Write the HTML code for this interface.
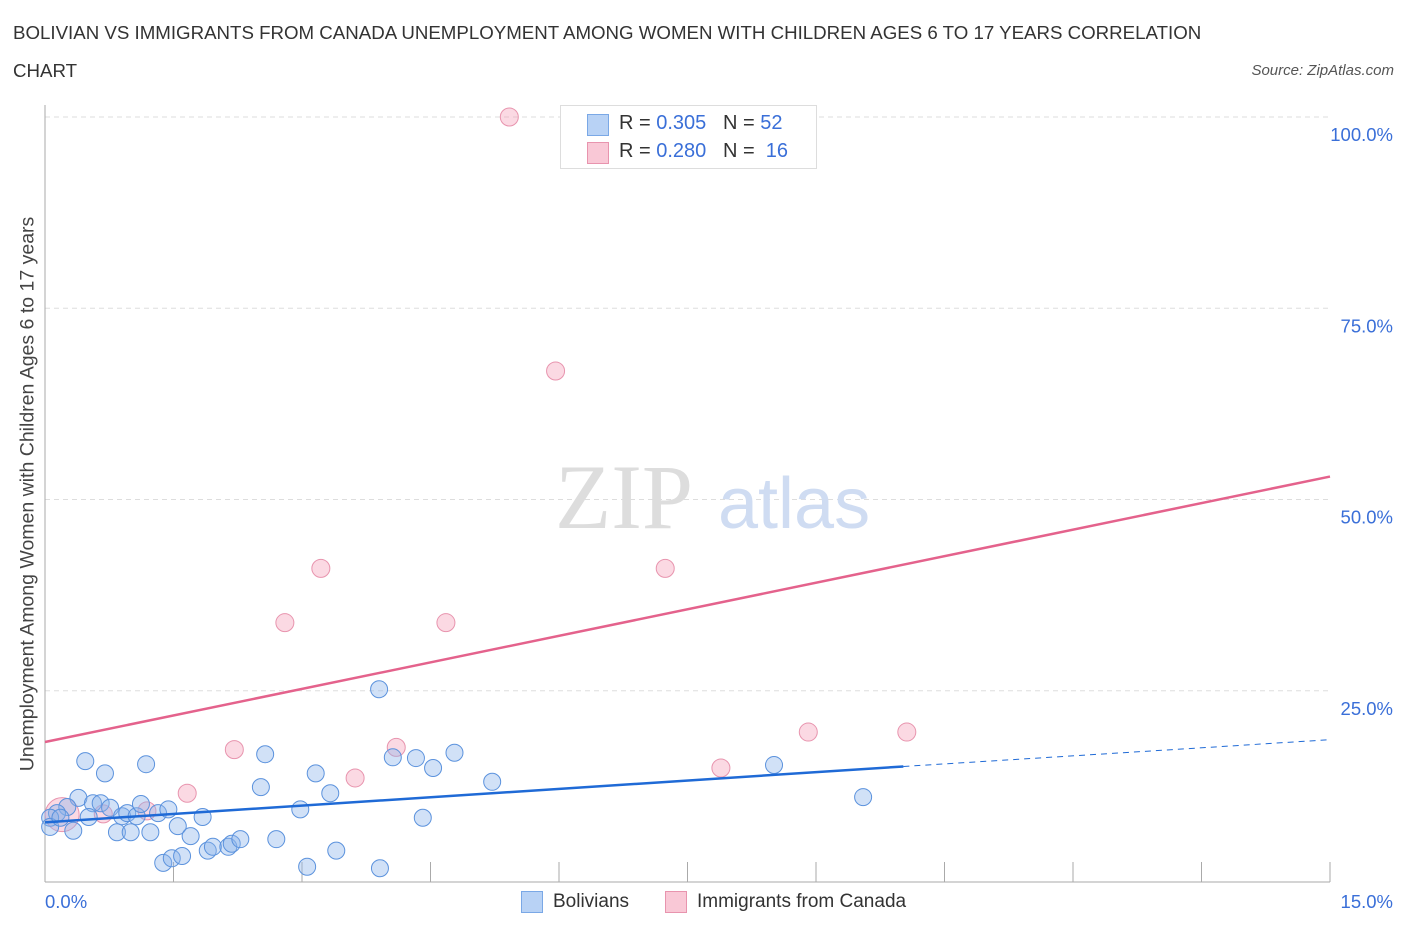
<!DOCTYPE html>
<html><head><meta charset="utf-8"><style>
body{margin:0;background:#fff;font-family:"Liberation Sans",sans-serif;}
#wrap{position:relative;width:1406px;height:930px;overflow:hidden;}
.t{position:absolute;white-space:nowrap;}
</style></head><body>
<div id="wrap">
<div class="t" style="left:13px;top:22px;font-size:18.7px;color:#333;">BOLIVIAN VS IMMIGRANTS FROM CANADA UNEMPLOYMENT AMONG WOMEN WITH CHILDREN AGES 6 TO 17 YEARS CORRELATION</div>
<div class="t" style="left:13px;top:60px;font-size:18.7px;color:#333;">CHART</div>
<div class="t" style="right:12px;top:62px;font-size:15px;color:#555;font-style:italic;">Source: ZipAtlas.com</div>
<svg id="svg" width="1406" height="930" style="position:absolute;left:0;top:0"></svg>
<div class="t" style="left:28px;top:494px;font-size:19.5px;color:#444;transform:translate(-50%,-50%) rotate(-90deg);transform-origin:center;">Unemployment Among Women with Children Ages 6 to 17 years</div>
</div>
<script>
const xTicks=[0,1.5,3,4.5,6,7.5,9,10.5,12,13.5,15];
const yTicks=[25,50,75,100];
const yTickLabels=["25.0%","50.0%","75.0%","100.0%"];
const bolX=[0.47,0.70,1.18,0.39,0.56,0.65,0.76,0.26,0.14,0.06,0.06,0.33,0.51,0.84,0.90,0.96,1.07,1.12,1.00,1.23,1.32,1.44,1.55,1.70,1.84,1.38,1.48,1.60,1.90,1.96,2.14,2.18,2.28,2.57,2.52,2.70,2.98,3.06,3.16,3.33,3.40,3.91,4.06,4.33,4.53,4.41,4.78,5.22,3.90,8.51,9.55,0.18];
const bolY=[15.8,14.2,15.4,11.0,10.3,10.3,9.7,9.8,9.0,8.4,7.2,6.7,8.5,6.5,8.6,9.0,8.6,10.2,6.5,6.5,9.0,9.5,7.3,6.0,8.5,2.5,3.1,3.4,4.1,4.6,4.6,5.0,5.6,16.7,12.4,5.6,9.5,2.0,14.2,11.6,4.1,1.8,16.3,16.2,14.9,8.4,16.9,13.1,25.2,15.3,11.1,8.4];
const canX=[5.42,5.96,3.22,7.24,2.80,4.68,2.21,4.10,3.62,1.66,7.89,8.91,10.06,1.19,0.68,0.20];
const canY=[100,66.8,41.0,41.0,33.9,33.9,17.3,17.6,13.6,11.6,14.9,19.6,19.6,9.3,8.9,8.8];
const X=v=>45+v/15*1285, Y=v=>882-v/100*765;
const s=document.getElementById('svg'),NS="http://www.w3.org/2000/svg";
function mk(t,a,p){const e=document.createElementNS(NS,t);for(const k in a)e.setAttribute(k,a[k]);(p||s).appendChild(e);return e;}
yTicks.forEach((v,i)=>{
 const g=mk('line',{x1:45,x2:1330,y1:Y(v),y2:Y(v),stroke:'#ddd','stroke-dasharray':'5,4'});
 
 
 const t=mk('text',{x:1393,y:Y(v)+24,'text-anchor':'end','font-size':18.5,fill:'#3a6fd8','font-family':'Liberation Sans'});t.textContent=yTickLabels[i];
 
 
});
const wm=mk('text',{x:555,y:528,'font-size':92,fill:'#ddd','font-family':'Liberation Serif'});wm.textContent='ZIP';


const wm2=mk('text',{x:718,y:528,'font-size':72,fill:'#cfdcf2','font-family':'Liberation Sans'});wm2.textContent='atlas';


const ax=mk('line',{x1:45,x2:45,y1:105,y2:882,stroke:'#aaa'});


const bx=mk('line',{x1:45,x2:1330,y1:882,y2:882,stroke:'#aaa'});


xTicks.slice(1).forEach(v=>{const l=mk('line',{x1:X(v),x2:X(v),y1:862,y2:882,stroke:'#aaa'});
 
 });
canX.forEach((x,i)=>{const c=mk('circle',{cx:X(x),cy:Y(canY[i]),r:i==15?17:9,fill:'rgba(244,160,185,0.4)',stroke:'#e894ae','stroke-width':1});
 
 });
bolX.forEach((x,i)=>{const c=mk('circle',{cx:X(x),cy:Y(bolY[i]),r:8.5,fill:'rgba(140,180,235,0.4)',stroke:'#5b92dd','stroke-width':1});
 
 });
const pl=mk('line',{x1:X(0),y1:Y(18.3),x2:X(15),y2:Y(53),stroke:'#e4628c','stroke-width':2.5});


const bl=mk('line',{x1:X(0),y1:Y(7.8),x2:X(10.02),y2:Y(15.1),stroke:'#1f6ad6','stroke-width':2.5});


const bd=mk('line',{x1:X(10.02),y1:Y(15.1),x2:X(15),y2:Y(18.6),stroke:'#1f6ad6','stroke-width':1,'stroke-dasharray':'6,5'});


</script>
<div class="t" style="left:45px;top:891px;font-size:18.5px;color:#3a6fd8;">0.0%</div>
<div class="t" style="right:13px;top:891px;font-size:18.5px;color:#3a6fd8;">15.0%</div>
<div style="position:absolute;left:560px;top:105px;width:255px;height:62px;border:1px solid #ddd;background:#fff;font-size:20px;">
 <div style="position:absolute;left:26px;top:8px;width:20px;height:20px;background:#b8d2f5;border:1px solid #7aa8e6;"></div>
 <div class="t" style="left:58px;top:6px;color:#333;">R = <span style="color:#3a6fd8">0.305</span>&nbsp;&nbsp;&nbsp;N = <span style="color:#3a6fd8">52</span></div>
 <div style="position:absolute;left:26px;top:36px;width:20px;height:20px;background:#f9c8d6;border:1px solid #e894ae;"></div>
 <div class="t" style="left:58px;top:34px;color:#333;">R = <span style="color:#3a6fd8">0.280</span>&nbsp;&nbsp;&nbsp;N = &nbsp;<span style="color:#3a6fd8">16</span></div>
</div>
<div style="position:absolute;left:521px;top:891px;width:20px;height:20px;background:#b8d2f5;border:1px solid #7aa8e6;"></div>
<div class="t" style="left:553px;top:891px;font-size:19px;color:#333;">Bolivians</div>
<div style="position:absolute;left:665px;top:891px;width:20px;height:20px;background:#f9c8d6;border:1px solid #e894ae;"></div>
<div class="t" style="left:697px;top:891px;font-size:19px;color:#333;">Immigrants from Canada</div>
</body></html>
